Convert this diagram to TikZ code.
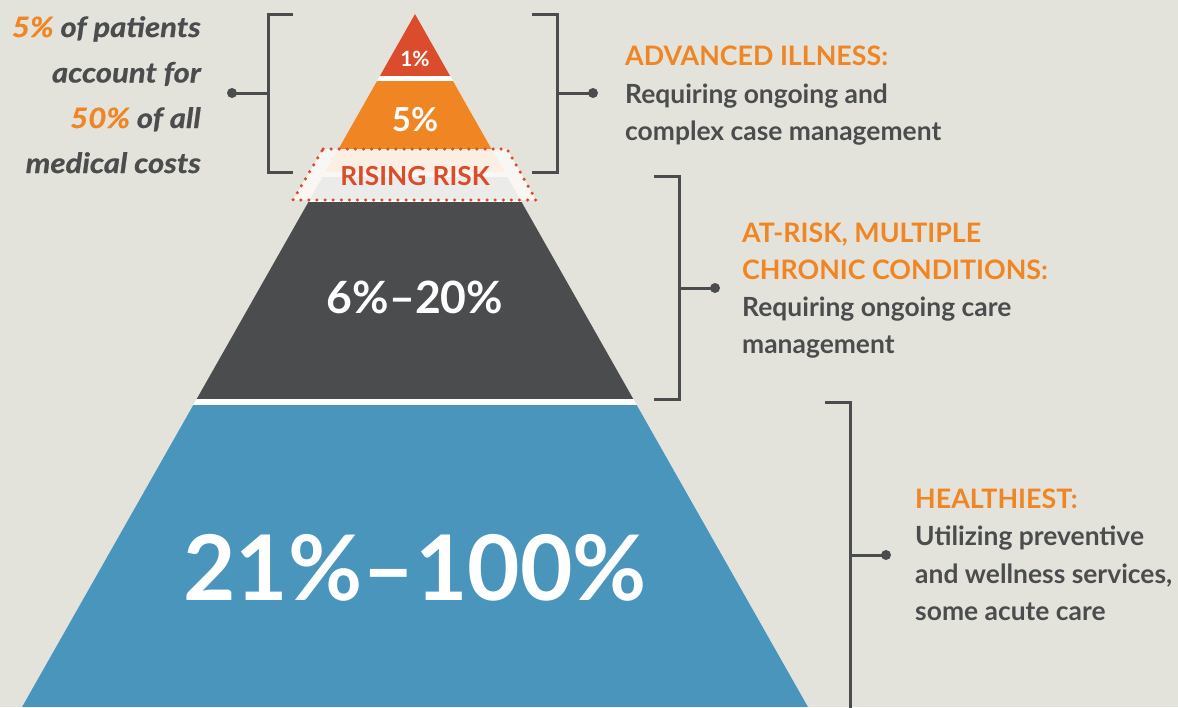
\documentclass[tikz,border=0pt]{standalone}
\usepackage{fontspec}
\setmainfont{Lato}
\newfontfamily\leftfont{Lato}[FakeStretch=1.11,FakeBold=0.7]
\definecolor{bgc}{HTML}{E4E3DB}
\definecolor{redc}{HTML}{DA4C2B}
\definecolor{orangec}{HTML}{F08623}
\definecolor{darkc}{HTML}{4B4C4E}
\definecolor{bluec}{HTML}{4A95BB}
\definecolor{textc}{HTML}{4B4C4E}
\definecolor{peachc}{HTML}{FBEEE3}
\definecolor{lgreyc}{HTML}{EBEBE9}
\definecolor{trapc}{HTML}{F8F7F3}
\tikzset{
  brk/.style={draw=textc, line width=3pt},
  dotn/.style={circle, fill=textc, inner sep=0pt, minimum size=10pt},
  hdr/.style={anchor=base west, inner sep=0pt, text=orangec, font=\bfseries\fontsize{26.8}{30}\selectfont},
  body/.style={anchor=base west, inner sep=0pt, text=textc, font=\bfseries\fontsize{26.4}{30}\selectfont},
  lefttxt/.style={anchor=base east, inner sep=0pt, text=textc, font=\leftfont\bfseries\itshape\fontsize{28}{34}\selectfont},
  pct/.style={anchor=base, inner sep=0pt, text=white, font=\bfseries}
}
\begin{document}
\begin{tikzpicture}[x=1pt,y=-1pt]
\useasboundingbox (0,0) rectangle (1178,707);
\fill[bgc] (0,0) rectangle (1178,707);
% pyramid base
\fill[white] (415,14) -- (808,707) -- (22,707) -- cycle;
% rising risk trapezoid fill
\fill[trapc] (323,149) -- (507,149) -- (536,200) -- (293,200) -- cycle;
\begin{scope}
\clip (415,14) -- (808,707) -- (22,707) -- cycle;
\fill[redc] (0,0) rectangle (1178,76);
\fill[orangec] (0,81) rectangle (1178,149);
\fill[peachc] (0,149) rectangle (1178,172);
\fill[lgreyc] (0,177) rectangle (1178,200);
\fill[darkc] (0,202) rectangle (1178,399);
\fill[bluec] (0,405) rectangle (1178,707);
\end{scope}
\draw[redc, line width=3.5pt, line cap=round, dash pattern=on 0pt off 8.1pt]
  (323,149) -- (507,149) -- (536,200) -- (293,200) -- cycle;
% pyramid labels
\node[pct, font=\bfseries\fontsize{21}{24}\selectfont] (p1) at (415,66) {1\%};
\node[pct, font=\bfseries\fontsize{33}{36}\selectfont] (p5) at (415,131) {5\%};
\node[pct, text=redc, font=\bfseries\fontsize{26.2}{28}\selectfont] (rr) at (415,185) {RISING RISK};
\node[pct, font=\bfseries\fontsize{44.5}{50}\selectfont] (p620) at (415,313) {6\%–20\%};
\node[pct, font=\bfseries\fontsize{90.5}{100}\selectfont] (p21) at (415,600) {21\%–100\%};
% left bracket
\coordinate (la) at (293,14); \coordinate (lb) at (268,14);
\coordinate (lc) at (268,172); \coordinate (ld) at (293,172);
\coordinate (lm) at (268,93);
\node[dotn] (ldot) at (232,93) {};
\draw[brk] (la) -- (lb) -- (lc) -- (ld);
\draw[brk] (lm) -- (ldot.center);
% right bracket 1
\coordinate (ra) at (532,14); \coordinate (rb) at (557,14);
\coordinate (rc) at (557,172); \coordinate (rd) at (532,172);
\coordinate (rm) at (557,93);
\node[dotn] (rdot) at (593,93) {};
\draw[brk] (ra) -- (rb) -- (rc) -- (rd);
\draw[brk] (rm) -- (rdot.center);
% bracket 2
\coordinate (sa) at (654,176); \coordinate (sb) at (679,176);
\coordinate (sc) at (679,399); \coordinate (sd) at (654,399);
\coordinate (sm) at (679,288);
\node[dotn] (sdot) at (715,288) {};
\draw[brk] (sa) -- (sb) -- (sc) -- (sd);
\draw[brk] (sm) -- (sdot.center);
% bracket 3
\coordinate (ta) at (825,402); \coordinate (tb) at (850,402);
\coordinate (tc) at (850,712);
\coordinate (tm) at (850,555);
\node[dotn] (tdot) at (886,555) {};
\draw[brk] (ta) -- (tb) -- (tc);
\draw[brk] (tm) -- (tdot.center);
% left text
\node[lefttxt] (l1) at (201,37) {\textcolor{orangec}{5\%} of patients};
\node[lefttxt] (l2) at (201,82.5) {account for};
\node[lefttxt] (l3) at (201,128) {\textcolor{orangec}{50\%} of all};
\node[lefttxt] (l4) at (201,173) {medical costs};
% block 1
\node[hdr] (h1) at (625,65) {ADVANCED ILLNESS:};
\node[body] (b11) at (625,103) {Requiring ongoing and};
\node[body] (b12) at (625,140) {complex case management};
% block 2
\node[hdr] (h2a) at (742,242) {AT-RISK, MULTIPLE};
\node[hdr] (h2b) at (742,279) {CHRONIC CONDITIONS:};
\node[body] (b21) at (742,316) {Requiring ongoing care};
\node[body] (b22) at (742,353) {management};
% block 3
\node[hdr] (h3) at (915,508) {HEALTHIEST:};
\node[body] (b31) at (915,545.5) {Utilizing preventive};
\node[body] (b32) at (915,583) {and wellness services,};
\node[body] (b33) at (915,620.5) {some acute care};
\end{tikzpicture}
\end{document}
